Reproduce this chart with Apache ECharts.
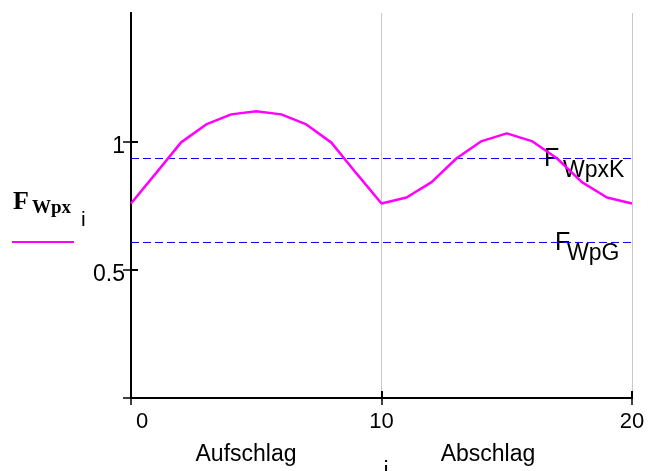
<!DOCTYPE html>
<html>
<head>
<meta charset="utf-8">
<script src="https://cdn.jsdelivr.net/npm/echarts@6/dist/echarts.min.js"></script>
<style>
html,body{margin:0;padding:0;background:#fff;}
#chart{width:652px;height:471px;}
</style>
</head>
<body>
<div id="chart"></div>
<script>
var iWerte = [0,1,2,3,4,5,6,7,8,9,10,11,12,13,14,15,16,17,18,19,20];
var fWpx = [0.758,0.876,0.996,1.066,1.105,1.117,1.105,1.066,0.995,0.875,0.758,
            0.781,0.841,0.934,1.001,1.031,1.001,0.934,0.841,0.781,0.758];
var fWpxK = 0.933;
var fWpG = 0.606;
var yTicks = [0,0.5,1];
var yLabels = [0.5,1];

var font = 'Liberation Sans, Arial, sans-serif';
var serif = 'Liberation Serif, Times New Roman, serif';
var chart = echarts.init(document.getElementById('chart'));

var kurve = iWerte.map(function(x, k){ return [x, fWpx[k]]; });
function waagrecht(v){ return [[iWerte[0], v], [iWerte[iWerte.length-1], v]]; }

var option = {
	animation: false,
	backgroundColor: '#fff',
	grid: {left: 131, right: 20, top: 13, bottom: 73},
	legend: {
		left: 12, top: 241, padding: 0,
		itemWidth: 62, itemHeight: 2,
		data: [{name: 'FWpx', icon: 'rect'}],
		formatter: function(){ return ''; },
		selectedMode: false
	},
	xAxis: [
		{
			type: 'value', min: 0, max: 20, interval: 10,
			axisLine: {onZero: false, lineStyle: {color: '#000', width: 2}},
			axisTick: {show: true, length: 7, lineStyle: {color: '#000', width: 1.5}},
			axisLabel: {
				margin: 13, fontSize: 22, color: '#000', fontFamily: font,
				formatter: function(v){ return v === 0 ? '{z|0}' : String(v); },
				rich: {z: {fontSize: 22, fontFamily: font, color: '#000', padding: [0,0,0,22]}}
			},
			splitLine: {show: true, lineStyle: {color: '#c8c8c8', width: 1}}
		},
		{
			// Innenstriche
			type: 'value', min: 0, max: 20, interval: 10, position: 'bottom',
			axisLine: {show: true, onZero: false, lineStyle: {color: '#000', width: 2}},
			axisTick: {show: true, inside: true, length: 7, lineStyle: {color: '#000', width: 2}},
			axisLabel: {show: true, margin: 13, fontSize: 22, fontFamily: font, color: 'rgba(0,0,0,0)'},
			splitLine: {show: false}
		}
	],
	yAxis: [
		{
			type: 'value', min: 0, max: 1.5, interval: 0.5, position: 'left',
			axisLine: {show: true, lineStyle: {color: '#000', width: 2}},
			axisTick: {show: true, length: 8, customValues: yTicks, lineStyle: {color: '#000', width: 1.5}},
			axisLabel: {margin: 6, customValues: yLabels,
				formatter: '{a|{value}}',
				rich: {a: {fontSize: 23, color: '#000', fontFamily: font, padding: [10,0,0,0]}}},
			splitLine: {show: false}
		},
		{
			type: 'value', min: 0, max: 1.5, interval: 0.5, position: 'left',
			axisLine: {show: true, onZero: false, lineStyle: {color: '#000', width: 2}},
			axisTick: {show: true, inside: true, length: 7, customValues: yLabels, lineStyle: {color: '#000', width: 2}},
			axisLabel: {show: true, margin: 6, fontSize: 23, fontFamily: font, color: 'rgba(0,0,0,0)', customValues: yLabels},
			splitLine: {show: false}
		}
	],
	series: [
		{
			name: 'FWpxK', type: 'line', data: waagrecht(fWpxK),
			xAxisIndex: 1, yAxisIndex: 1,
			symbol: 'none', silent: true,
			lineStyle: {color: '#0000ff', width: 1, type: [8,4]}
		},
		{
			name: 'FWpG', type: 'line', data: waagrecht(fWpG),
			xAxisIndex: 1, yAxisIndex: 1,
			symbol: 'none', silent: true,
			lineStyle: {color: '#0000ff', width: 1, type: [8,4]}
		},
		{
			name: 'FWpx', type: 'line', data: kurve,
			symbol: 'none', showSymbol: false,
			itemStyle: {color: '#ff00ff'},
			lineStyle: {color: '#ff00ff', width: 2.5}
		}
	]
};
chart.setOption(option);

// Beschriftungen an den Linien
var pK = chart.convertToPixel({gridIndex: 0}, [20, fWpxK]);
var pG = chart.convertToPixel({gridIndex: 0}, [20, fWpG]);
function txt(x, y, s, size, fam, weight, align){
	return {type: 'text', x: x, y: y, style: {text: s, fontSize: size, fontFamily: fam, fontWeight: weight || 'normal',
		fill: '#000', textVerticalAlign: 'middle', textAlign: align || 'left'}};
}
chart.setOption({
	graphic: [
		txt(pK[0]-88, pK[1]+1, 'F', 25, font),
		txt(pK[0]-69, pK[1]+12, 'WpxK', 23, font),
		txt(pG[0]-77, pG[1]+1, 'F', 25, font),
		txt(pG[0]-65, pG[1]+11, 'WpG', 23, font),
		txt(13, 202, 'F', 26, serif, 'bold'),
		txt(32, 208, 'Wpx', 19, serif, 'bold'),
		txt(81, 220, 'i', 21, font),
		txt(246, 455, 'Aufschlag', 23, font, 'normal', 'center'),
		txt(386, 472, 'i', 23, font, 'normal', 'center'),
		txt(488, 455, 'Abschlag', 23, font, 'normal', 'center')
	]
});
</script>
</body>
</html>
